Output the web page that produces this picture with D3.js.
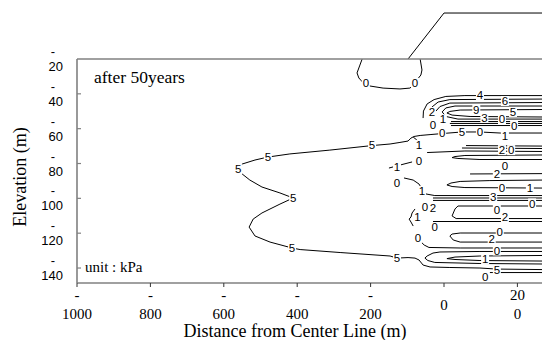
<!DOCTYPE html>
<html>
<head>
<meta charset="utf-8">
<script src="https://cdn.jsdelivr.net/npm/d3@7"></script>
<style>
  html, body { margin: 0; padding: 0; background: #fff; }
  svg { display: block; }
</style>
</head>
<body>
<svg id="chart" width="542" height="340"></svg>
<script>
// Axis ticks and their (wrapped) labels
const xTicks = [-1000, -800, -600, -400, -200, 0, 200];
const xTickText = [["-", "1000"], ["-", "800"], ["-", "600"], ["-", "400"], ["-", "200"], ["0"], ["20", "0"]];
const yTicks = [-20, -40, -60, -80, -100, -120, -140];
const yTickText = [["-", "20"], ["-", "40"], ["-", "60"], ["-", "80"], ["-", "100"], ["-", "120"], ["-", "140"]];

// Embankment outline: [distance m, elevation m]
const embankment = [[-98, -20], [0, 6.4], [280, 6.4]];

// Contour lines of excess pore pressure (kPa): [distance m, elevation m]
const cTop0 = [[-223, -20], [-230, -24], [-237, -28], [-232, -30.9], [-222, -33.2], [-202, -35.5], [-166, -36.7], [-120, -37.2], [-93, -36.7], [-82, -35], [-74, -32.1], [-63, -29.2], [-60, -26.3], [-65, -20]];
const cMain5 = [[270, -62.5], [153, -62.5], [98, -61.9], [49, -61.9], [-5, -62.8], [-38, -63.4], [-65, -63.9], [-82, -64.5], [-90, -65.4], [-98, -67.1], [-120, -67.9], [-147, -68.8], [-196, -69.7], [-311, -72.3], [-420, -74.5], [-480, -76.3], [-515, -78.0], [-550, -80.3], [-567, -83.2], [-550, -86.0], [-529, -89.5], [-496, -93.5], [-447, -96.9], [-411, -99.8], [-447, -103.3], [-496, -108.4], [-520, -111.9], [-531, -116.5], [-515, -121.6], [-474, -125.1], [-414, -128.5], [-392, -129.4], [-283, -131.1], [-147, -133.1], [-128, -134.3], [-98, -134.0], [-79, -134.3], [-68, -135.4], [-57, -138.3], [-38, -139.4], [16, -139.7], [98, -140.0], [144, -140.6], [270, -140.9]];
const cCurl1 = [[-84, -64.8], [-74, -66.5], [-68, -68.8]];
const cB1 = [[-57, -53.9], [-56, -49.9], [-46, -45.8], [-27, -43.3], [5, -41.5], [57, -41.0], [270, -41.0]];
const cB2 = [[-38, -51.0], [-33, -47.6], [-16, -44.7], [16, -43.3], [270, -43.0]];
const cB3 = [[-22, -49.9], [-11, -47.3], [16, -45.3], [270, -45.0]];
const cB4 = [[270, -47.0], [30, -47.0], [5, -48.1], [-5, -50.4], [5, -53.0], [38, -54.5], [270, -54.5]];
const cB5 = [[270, -49.0], [44, -49.3], [16, -50.1], [8, -51.0], [22, -52.2], [71, -53.0], [270, -53.3]];
const cB6a = [[19, -55.9], [270, -55.9]];
const cB6b = [[16, -57.0], [270, -57.0]];
const cB6c = [[19, -58.2], [270, -58.2]];
const cC1 = [[60, -69.7], [270, -70.0]];
const cC2 = [[49, -71.1], [270, -71.4]];
const cC3 = [[-46, -73.7], [57, -72.8], [270, -73.1]];
const cC4 = [[270, -75.1], [57, -75.4], [30, -76.0], [22, -76.6], [38, -77.1], [98, -77.7], [270, -77.7]];
const cC5 = [[-150, -82.6], [-120, -80.9], [-87, -79.1]];
const cDtop = [[71, -86.0], [270, -85.8]];
const cD0 = [[-109, -88.3], [-84, -89.5], [-68, -91.8], [-60, -94.6], [-49, -97.5], [-25, -98.4], [125, -98.4], [270, -98.4]];
const cD1 = [[270, -89.5], [125, -89.8], [44, -90.3], [19, -91.2], [8, -92.3], [22, -93.2], [57, -93.8], [270, -94.1]];
const cD2 = [[-30, -99.8], [270, -99.8]];
const cD3 = [[-30, -101.2], [270, -101.2]];
const cECurl = [[-79, -106.1], [-87, -108.4], [-90, -110.7], [-95, -111.9], [-90, -113.6], [-84, -115.9]];
const cE1 = [[270, -104.4], [38, -104.4], [30, -106.1], [22, -110.1], [33, -111.6], [270, -111.6]];
const cE2 = [[-30, -113.3], [270, -113.3]];
const cE4 = [[270, -119.9], [44, -119.9], [22, -120.5], [16, -121.6], [25, -123.9], [44, -125.1], [270, -125.1]];
const cF1 = [[-65, -124.5], [-54, -126.8], [-41, -128.2], [44, -128.5], [270, -128.5]];
const cF2 = [[270, -130.5], [98, -130.5], [-11, -130.8], [-30, -131.4], [-46, -133.1], [-52, -134.3], [-44, -135.7], [-25, -136.8], [98, -137.4], [270, -137.7]];
const cF3 = [[270, -132.8], [98, -133.1], [30, -133.7], [8, -134.6], [30, -135.1], [98, -135.7], [270, -136.0]];
const cF5 = [[125, -142.6], [270, -142.6]];

const contourLines = [cTop0, cMain5, cCurl1, cB1, cB2, cB3, cB4, cB5, cB6a, cB6b, cB6c,
  cC1, cC2, cC3, cC4, cC5, cDtop, cD0, cD1, cD2, cD3, cECurl, cE1, cE2, cE4, cF1, cF2, cF3, cF5];

// Contour labels: [text, distance m, elevation m]
const contourLabels = [
  ["0", -213, -33.8], ["0", -79, -33.8],
  ["5", -196, -69.4], ["5", -480, -76.3], ["5", -561, -83.2], ["5", -411, -99.8],
  ["5", -414, -128.5], ["5", -128, -134.3], ["5", 144, -141.2], ["0", 112, -144.8],
  ["0", -5, -62.5], ["5", 49, -62.0], ["0", 98, -62.0], ["1", 166, -64.2], ["1", -68, -69.4],
  ["4", 98, -40.7], ["2", -33, -50.4], ["1", -3, -54.6], ["0", -30, -57.9],
  ["9", 88, -49.2], ["3", 110, -53.8], ["6", 166, -44.1], ["5", 188, -50.4], ["0", 158, -54.5], ["0", 191, -58.2],
  ["2", 158, -72.3], ["0", 183, -72.3], ["1", -128, -82.0], ["0", -68, -78.6],
  ["0", 166, -81.6], ["2", 144, -86.0],
  ["0", -128, -91.2], ["1", -60, -95.8], ["3", 134, -99.2], ["0", 158, -94.1], ["1", 234, -94.1], ["0", 240, -102.9],
  ["0", -52, -105.0], ["2", -30, -105.6], ["1", -72, -110.7], ["0", -25, -116.5],
  ["0", 144, -106.7], ["2", 166, -110.7],
  ["0", 152, -119.5], ["2", 130, -123.4],
  ["0", -71, -122.8], ["0", 144, -129.9], ["1", 112, -134.8]
];

const svg = d3.select("#chart");

const x = d3.scaleLinear().domain([-1000, 280]).range([77, 77 + 1280 * 0.367]);
const y = d3.scaleLinear().domain([-20, -148.6]).range([59, 283]);
const [px0, px1] = x.range();
const [py0, py1] = y.range();

svg.append("defs").append("clipPath").attr("id", "plotClip")
  .append("rect").attr("x", px0).attr("y", py0).attr("width", px1 - px0).attr("height", py1 - py0);

// Embankment outline above the ground surface
const line = d3.line().x(d => x(d[0])).y(d => y(d[1]));
svg.append("path").datum(embankment)
  .attr("d", line).attr("fill", "none").attr("stroke", "#000").attr("stroke-width", 1);

// Contours (group opacity keeps label text in plain grayscale antialiasing)
const plot = svg.append("g").attr("clip-path", "url(#plotClip)").attr("opacity", 0.999);
plot.selectAll("path.contour").data(contourLines).join("path")
  .attr("class", "contour")
  .attr("d", line)
  .attr("fill", "none").attr("stroke", "#000").attr("stroke-width", 1);

// Contour labels sit on small white patches that break the lines
const lab = plot.selectAll("g.clabel").data(contourLabels).join("g")
  .attr("class", "clabel")
  .attr("transform", d => `translate(${x(d[1])},${y(d[2])})`);
lab.append("rect")
  .attr("x", -4).attr("y", -5).attr("width", 8).attr("height", 10)
  .attr("fill", "#fff");
lab.append("text")
  .attr("dy", "0.36em")
  .attr("text-anchor", "middle")
  .attr("font-family", "'Liberation Sans', Arial, sans-serif")
  .attr("font-size", 11.5)
  .attr("fill", "#000")
  .text(d => d[0]);

// Frame
const frame = "#808080";
svg.append("line").attr("x1", px0).attr("x2", px0).attr("y1", py0).attr("y2", py1)
  .attr("stroke", frame).attr("stroke-width", 1.6);
svg.append("line").attr("x1", px0).attr("x2", px1).attr("y1", py0).attr("y2", py0)
  .attr("stroke", frame).attr("stroke-width", 1.6);
svg.append("line").attr("x1", px0).attr("x2", px1).attr("y1", py1).attr("y2", py1)
  .attr("stroke", frame).attr("stroke-width", 1.4);

// X axis ticks and labels
const xg = svg.append("g");
xg.selectAll("line").data(xTicks).join("line")
  .attr("x1", d => x(d)).attr("x2", d => x(d))
  .attr("y1", py1).attr("y2", py1 + 4)
  .attr("stroke", "#333").attr("stroke-width", 1);
xg.selectAll("text").data(xTicks).join("text")
  .attr("text-anchor", "middle")
  .attr("font-family", "'Liberation Serif', 'Times New Roman', serif")
  .attr("font-size", 15)
  .attr("fill", "#000")
  .each(function (d, i) {
    const lines = xTickText[i];
    const t = d3.select(this);
    const base = lines.length === 1 ? 310 : 300;
    lines.forEach((s, k) => {
      t.append("tspan").attr("x", x(d)).attr("y", base + k * 19).text(s);
    });
  });

// Y axis ticks and labels
const yg = svg.append("g");
yg.selectAll("line").data(yTicks.slice(1)).join("line")
  .attr("x1", px0).attr("x2", px0 + 4)
  .attr("y1", d => y(d)).attr("y2", d => y(d))
  .attr("stroke", frame).attr("stroke-width", 1.2);
yTicks.forEach((d, i) => {
  const [dash, num] = yTickText[i];
  yg.append("text").attr("x", 53).attr("y", y(d) - 3)
    .attr("text-anchor", "middle")
    .attr("font-family", "'Liberation Sans', Arial, sans-serif").attr("font-size", 13)
    .text(dash);
  yg.append("text").attr("x", 63).attr("y", y(d) + 12)
    .attr("text-anchor", "end")
    .attr("font-family", "'Liberation Sans', Arial, sans-serif").attr("font-size", 13)
    .text(num);
});

// Titles and annotations
const serif = "'Liberation Serif', 'Times New Roman', serif";
svg.append("text").attr("transform", "translate(26,177) rotate(-90)")
  .attr("text-anchor", "middle").attr("font-family", serif).attr("font-size", 18)
  .text("Elevation (m)");
svg.append("text").attr("x", 295).attr("y", 337)
  .attr("text-anchor", "middle").attr("font-family", serif).attr("font-size", 18)
  .text("Distance from Center Line (m)");
svg.append("text").attr("x", 94).attr("y", 83)
  .attr("font-family", serif).attr("font-size", 17.5)
  .text("after 50years");
svg.append("text").attr("x", 85).attr("y", 272)
  .attr("font-family", serif).attr("font-size", 15)
  .text("unit : kPa");
</script>
</body>
</html>
